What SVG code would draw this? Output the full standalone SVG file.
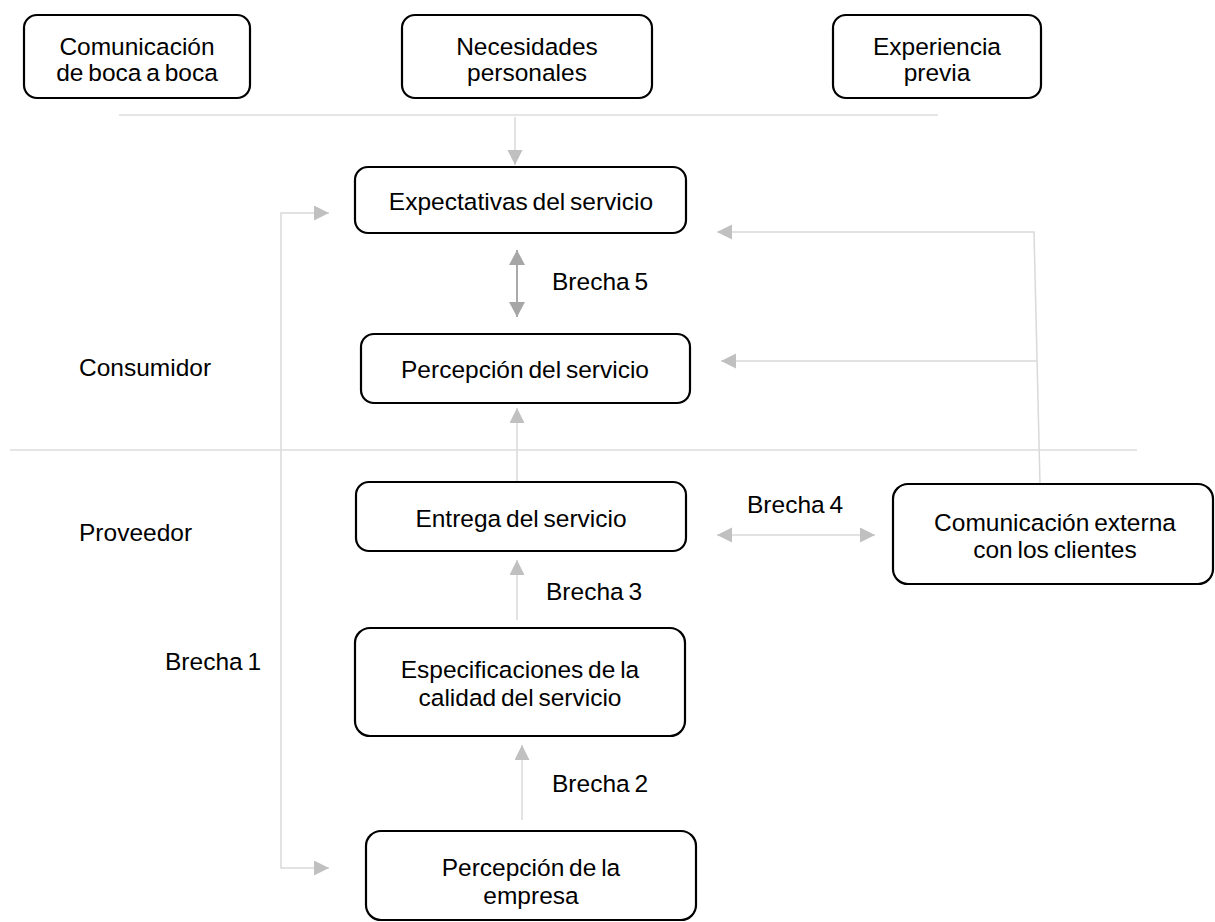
<svg xmlns="http://www.w3.org/2000/svg" width="1215" height="922" viewBox="0 0 1215 922">
<style>
.box{fill:#fff;stroke:#000;stroke-width:2.2}
.t{font-family:"Liberation Sans",Arial,sans-serif;font-size:24.5px;word-spacing:-2px;fill:#000}
.c{text-anchor:middle}
.ln{fill:none;stroke:#d9d9d9;stroke-width:1.5}
.sep{fill:none;stroke:#dcdcdc;stroke-width:1.5}
.dk{fill:none;stroke:#aaaaaa;stroke-width:2}
</style>
<defs>
<marker id="ah" markerUnits="userSpaceOnUse" markerWidth="16" markerHeight="16" refX="15" refY="7.5" orient="auto-start-reverse">
<path d="M0,0 L15,7.5 L0,15 z" fill="#c0c0c0"/>
</marker>
<marker id="ahd" markerUnits="userSpaceOnUse" markerWidth="17" markerHeight="17" refX="15" refY="8" orient="auto-start-reverse">
<path d="M0,0 L15,8 L0,16 z" fill="#a6a6a6"/>
</marker>
</defs>
<g id="separators">
<line class="sep" x1="119" y1="115" x2="938" y2="115"/>
<line class="sep" x1="10" y1="450" x2="1137" y2="450"/>
</g>
<g id="connectors">
<line class="ln" x1="515" y1="117" x2="515" y2="165" marker-end="url(#ah)"/>
<line class="dk" x1="517" y1="250" x2="517" y2="317" marker-start="url(#ahd)" marker-end="url(#ahd)"/>
<line class="ln" x1="517" y1="482" x2="517" y2="408" marker-end="url(#ah)"/>
<line class="ln" x1="517" y1="620" x2="517" y2="560" marker-end="url(#ah)"/>
<line class="ln" x1="522" y1="820" x2="522" y2="745" marker-end="url(#ah)"/>
<polyline class="ln" points="329,213 281,213 281,868 329,868" marker-start="url(#ah)" marker-end="url(#ah)"/>
<polyline class="ln" points="1040,484 1034,232 717,232" marker-end="url(#ah)"/>
<line class="ln" x1="1037" y1="361" x2="721" y2="361" marker-end="url(#ah)"/>
<line class="ln" x1="717" y1="535" x2="875" y2="535" marker-start="url(#ah)" marker-end="url(#ah)"/>
</g>
<g id="n-boca">
<rect class="box" x="24" y="15" width="226" height="83" rx="13"/>
<text class="t c" x="137" y="55">Comunicación</text>
<text class="t c" x="137" y="81">de boca a boca</text>
</g>
<g id="n-necesidades">
<rect class="box" x="402" y="15" width="250" height="83" rx="13"/>
<text class="t c" x="527" y="55">Necesidades</text>
<text class="t c" x="527" y="81">personales</text>
</g>
<g id="n-experiencia">
<rect class="box" x="833" y="15" width="208" height="83" rx="13"/>
<text class="t c" x="937" y="55">Experiencia</text>
<text class="t c" x="937" y="81">previa</text>
</g>
<g id="n-expectativas">
<rect class="box" x="355" y="167" width="331" height="66" rx="13"/>
<text class="t c" x="521" y="210">Expectativas del servicio</text>
</g>
<g id="n-percepcion">
<rect class="box" x="361" y="334" width="329" height="69" rx="13"/>
<text class="t c" x="525" y="378">Percepción del servicio</text>
</g>
<g id="n-entrega">
<rect class="box" x="356" y="482" width="330" height="69" rx="13"/>
<text class="t c" x="521" y="527">Entrega del servicio</text>
</g>
<g id="n-comext">
<rect class="box" x="893" y="484" width="320" height="100" rx="15"/>
<text class="t c" x="1055" y="531">Comunicación externa</text>
<text class="t c" x="1055" y="558">con los clientes</text>
</g>
<g id="n-especificaciones">
<rect class="box" x="355" y="628" width="330" height="108" rx="15"/>
<text class="t c" x="520" y="678">Especificaciones de la</text>
<text class="t c" x="520" y="706">calidad del servicio</text>
</g>
<g id="n-empresa">
<rect class="box" x="366" y="831" width="330" height="89" rx="15"/>
<text class="t c" x="531" y="876">Percepción de la</text>
<text class="t c" x="531" y="904">empresa</text>
</g>
<g id="labels">
<text class="t" x="79" y="376">Consumidor</text>
<text class="t" x="79" y="541">Proveedor</text>
<text class="t" x="165" y="670">Brecha 1</text>
<text class="t" x="552" y="792">Brecha 2</text>
<text class="t" x="546" y="600">Brecha 3</text>
<text class="t" x="747" y="513">Brecha 4</text>
<text class="t" x="552" y="290">Brecha 5</text>
</g>
</svg>
